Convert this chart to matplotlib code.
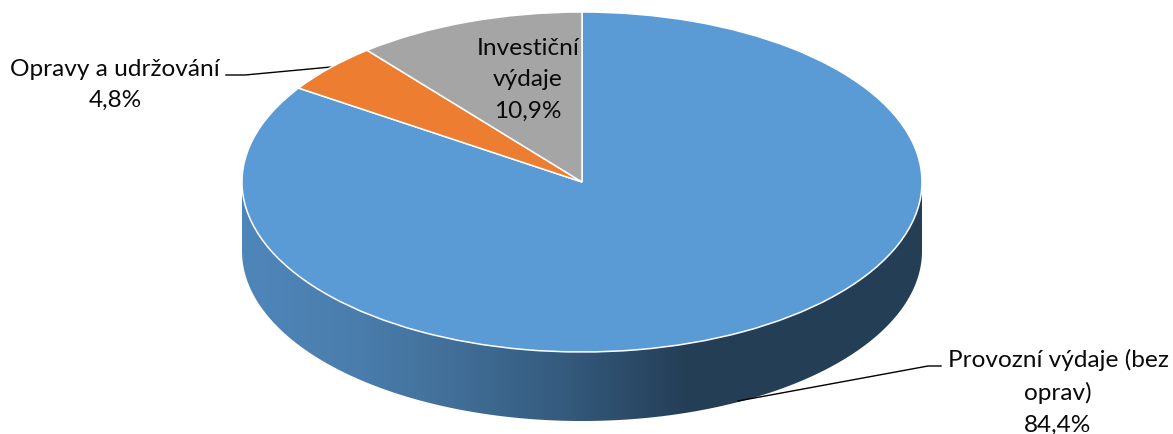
import numpy as np
import matplotlib
matplotlib.use("Agg")
import matplotlib.pyplot as plt
from matplotlib.colors import LinearSegmentedColormap
from matplotlib.patches import Polygon

categories = ['Provozní výdaje (bez\noprav)', 'Opravy a udržování', 'Investiční\nvýdaje']
values = [84.4, 4.8, 10.9]
colors = ['#5b9bd5', '#ed7d31', '#a5a5a5']

W, H = 1173, 434
cx, cy, rx, ry = 582, 182, 340, 170
depth = 69

plt.rcParams['font.family'] = ['Lato', 'DejaVu Sans']

fig = plt.figure(figsize=(W / 100, H / 100), dpi=100, facecolor='white')

# background axes in pixel coordinates, side wall and labels live here
ax = fig.add_axes([0, 0, 1, 1])
ax.set_xlim(0, W)
ax.set_ylim(H, 0)
ax.axis('off')

# side wall of the 3D disc
side_cmap = LinearSegmentedColormap.from_list('side', [
    (0.00, '#4f86ba'), (0.17, '#4a7dac'), (0.30, '#42709a'), (0.47, '#355b7e'),
    (0.65, '#253f57'), (1.00, '#243e55')])
t = np.linspace(0, np.pi, 300)
xs = cx - rx * np.cos(t)
upper = cy + ry * np.sin(t)
lower = cy + depth + ry * np.sin(t)
wall = Polygon(np.vstack([np.column_stack([xs, upper]),
                          np.column_stack([xs[::-1], lower[::-1]])]),
               closed=True, facecolor='none', edgecolor='none',
               transform=ax.transData)
ax.add_patch(wall)
grad = ax.imshow(np.linspace(0, 1, 512).reshape(1, -1), cmap=side_cmap, aspect='auto',
                 extent=(cx - rx, cx + rx, cy + depth + ry, cy - 20), zorder=1)
grad.set_clip_path(wall)
ax.set_xlim(0, W)
ax.set_ylim(H, 0)

# leader lines
ax.plot([226, 245, 331], [75, 75, 67], color='black', lw=1.0, zorder=3)
ax.plot([738, 928, 941], [401, 366, 366], color='black', lw=1.0, zorder=3)

# top face, squashed pie in its own axes
ax_pie = fig.add_axes([(cx - rx) / W, 1 - (cy + ry) / H, 2 * rx / W, 2 * ry / H], zorder=2)
ax_pie.pie(values, colors=colors, startangle=90, counterclock=False, radius=1,
           wedgeprops={'edgecolor': 'white', 'linewidth': 1.1, 'clip_on': False})
ax_pie.set_aspect('auto')
ax_pie.set_xlim(-1, 1)
ax_pie.set_ylim(-1, 1)
ax_pie.patch.set_alpha(0)

# text goes on an overlay so it sits above the pie
ax_txt = fig.add_axes([0, 0, 1, 1], zorder=4)
ax_txt.set_xlim(0, W)
ax_txt.set_ylim(H, 0)
ax_txt.axis('off')

label_pos = [(1058, 392), (115, 85), (528, 80)]
for name, val, (lx, ly) in zip(categories, values, label_pos):
    pct = f'{val:.1f}%'.replace('.', ',')
    ax_txt.text(lx, ly, f'{name}\n{pct}', ha='center', va='center',
                fontsize=17.6, color='#0a0a0a', linespacing=1.62)

fig.savefig('out.png', dpi=100)
